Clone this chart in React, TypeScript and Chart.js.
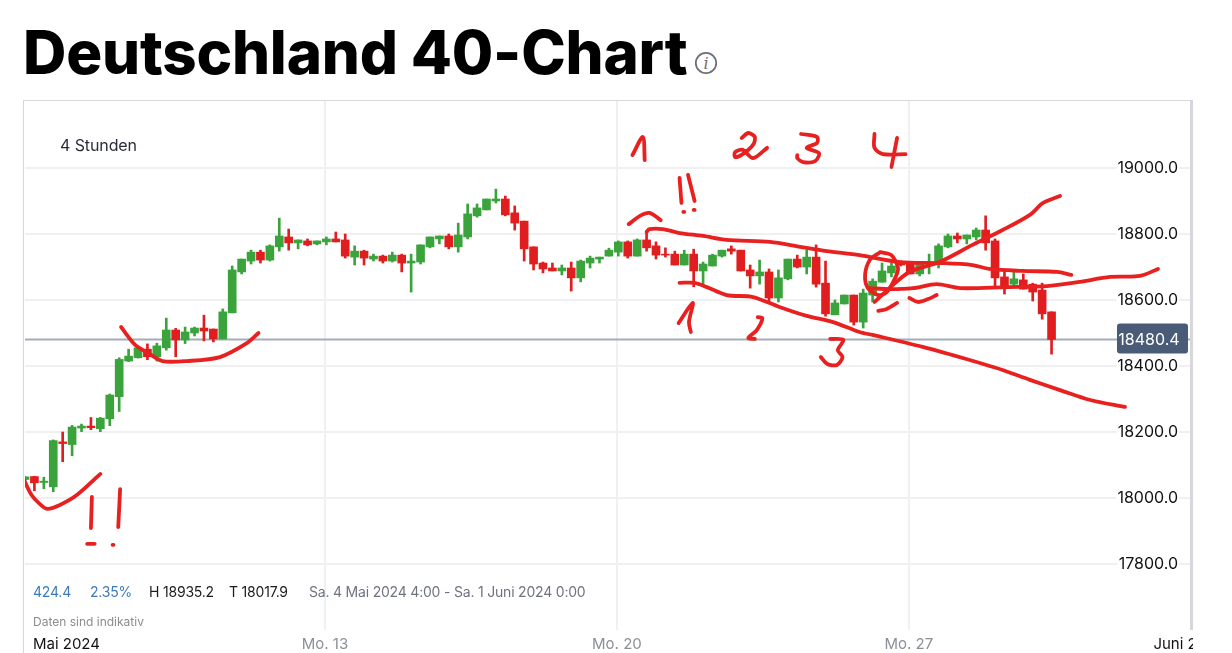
import React, { useEffect, useRef } from "react";
import { Chart, registerables } from "chart.js";

Chart.register(...registerables);

const opens = [18056,18065,18047,18034,18170,18162,18212,18218,18210,18240,18307,18415,18425,18451,18428,18455,18509,18479,18500,18515,18512,18482,18561,18685,18718,18745,18721,18761,18791,18773,18779,18770,18776,18785,18782,18730,18748,18724,18733,18718,18736,18712,18715,18761,18785,18794,18761,18791,18855,18873,18900,18906,18864,18839,18761,18712,18697,18688,18697,18667,18712,18724,18733,18745,18776,18733,18782,18764,18739,18739,18706,18739,18688,18703,18733,18755,18751,18691,18673,18685,18606,18664,18724,18700,18730,18651,18555,18588,18615,18533,18615,18654,18682,18715,18709,18679,18711,18715,18761,18794,18785,18791,18812,18779,18670,18648,18661,18648,18630,18564];
const highs = [18066,18066,18063,18176,18200,18220,18224,18244,18244,18315,18425,18451,18458,18467,18469,18545,18514,18518,18518,18554,18512,18573,18703,18724,18751,18751,18767,18848,18815,18782,18785,18779,18791,18806,18800,18764,18751,18739,18736,18745,18739,18739,18767,18791,18794,18800,18833,18891,18891,18906,18936,18915,18885,18839,18761,18715,18712,18706,18715,18721,18733,18730,18757,18779,18779,18785,18809,18776,18758,18748,18751,18754,18715,18739,18751,18764,18751,18706,18721,18694,18691,18724,18736,18751,18767,18718,18600,18615,18615,18633,18664,18712,18712,18718,18709,18715,18739,18770,18800,18803,18797,18818,18855,18785,18691,18688,18679,18651,18651,18564];
const lows = [18054,18022,18028,18019,18110,18128,18201,18207,18201,18219,18262,18413,18424,18419,18415,18448,18428,18468,18491,18476,18473,18482,18561,18679,18709,18712,18718,18748,18751,18755,18764,18767,18767,18776,18727,18706,18706,18718,18712,18715,18685,18624,18709,18758,18770,18755,18745,18785,18851,18873,18894,18855,18812,18718,18691,18682,18688,18676,18627,18655,18697,18712,18733,18733,18727,18733,18748,18724,18730,18706,18706,18640,18645,18703,18730,18739,18688,18636,18648,18594,18594,18661,18697,18679,18639,18551,18555,18588,18524,18515,18594,18654,18670,18703,18679,18673,18679,18697,18758,18773,18770,18782,18751,18642,18618,18642,18633,18597,18542,18436];
const closes = [18064,18046,18051,18174,18165,18215,18218,18213,18242,18312,18420,18430,18455,18428,18461,18509,18479,18503,18515,18506,18482,18564,18691,18724,18745,18721,18764,18794,18773,18782,18767,18779,18785,18776,18733,18748,18727,18733,18718,18736,18712,18718,18767,18791,18794,18761,18797,18861,18879,18906,18906,18858,18833,18755,18709,18694,18688,18697,18667,18718,18727,18730,18751,18776,18733,18782,18758,18736,18736,18706,18739,18688,18709,18736,18751,18748,18688,18673,18685,18606,18667,18724,18700,18730,18648,18558,18591,18615,18533,18621,18657,18688,18703,18706,18679,18715,18715,18764,18794,18785,18797,18812,18773,18667,18642,18664,18633,18624,18558,18480.4];

const lastPrice = 18480.4;
const yTickValues = [19000, 18800, 18600, 18400, 18200, 18000, 17800];
const xTickValues = [4.4, 31.85, 62.85, 93.85, 123.6];
const xTickLabels = ["Mai 2024", "Mo. 13", "Mo. 20", "Mo. 27", "Juni 2024"];
const xMax = 123.7;
const yMin = 17600;
const yMax = 19203;

// Hand-drawn marks, as [candle index, price] pairs
const smileBottomLeft = [[-0.1,18055],[0.7,18009],[1.8,17976],[2.4,17967],[3.7,17979],[5.5,18009],[8,18073]];
const bangA1 = [[7.1,18003],[7,17909]];
const bangA2 = [[10.1,18027],[9.9,17912]];
const bangADot1 = [[6.6,17861],[7.4,17861]];
const bangADot2 = [[9.3,17858],[9.4,17858]];
const smileMiddle = [[10.2,18518],[11.7,18464],[13.1,18439],[14.6,18415],[17.2,18415],[20.7,18427],[23.6,18470],[24.8,18500]];
const arcTop = [[64.1,18830],[65.3,18855],[66.3,18864],[67.5,18842]];
const upperLine = [[66,18806],[66.3,18815],[67.7,18815],[69.5,18803],[72,18794],[74.5,18782],[79.1,18776],[82.3,18761],[85.1,18748],[88.6,18736],[92.9,18715],[97.1,18712],[100.6,18706],[102.4,18694],[105.9,18688],[109.6,18685],[111.1,18676]];
const lowerLine = [[69.5,18652],[71.1,18652],[72.4,18639],[74.5,18615],[77.3,18609],[80.1,18579],[83,18552],[85.8,18533],[88.6,18503],[90,18494],[95.3,18458],[98.5,18433],[101.4,18409],[103.8,18388],[106.7,18358],[109.9,18327],[113.1,18297],[116.8,18276]];
const middleLine = [[89.7,18636],[91.8,18633],[94.3,18636],[96.8,18648],[99.3,18636],[104.2,18639],[108.5,18642],[112,18655],[115.2,18670],[118.4,18673],[120.3,18694]];
const risingLine = [[90.2,18594],[91.8,18636],[93.9,18685],[97.1,18715],[100.6,18767],[103.8,18812],[106.7,18858],[108.1,18894],[109.9,18915]];
const circle = [[90.8,18745],[89.7,18721],[89.2,18676],[89.5,18636],[90.6,18615],[91.5,18624],[92.4,18667],[92.7,18697],[92,18736],[90.8,18745]];
const dashMark = [[90.6,18567],[91.5,18573],[92.6,18591]];
const tildeMark = [[93.9,18606],[94.8,18594],[95.9,18603],[96.8,18615]];
const topOne = [[64.5,19039],[65.6,19094],[65.8,19024]];
const topTwo = [[76.1,19091],[76.8,19106],[77.5,19094],[77.3,19070],[76.2,19042],[75.4,19033],[75.4,19048],[76.2,19055],[77.3,19030],[78.8,19061]];
const topThree = [[82.4,19103],[84.1,19094],[84.1,19076],[83,19061],[84.3,19045],[83.9,19021],[82.6,19018],[82,19030],[82,19039]];
const topFourA = [[90.2,19103],[90.2,19061],[91.1,19042],[93.5,19042]];
const topFourB = [[92.6,19091],[92,19003]];
const bangB1 = [[69.5,18970],[69.7,18894]];
const bangB2 = [[70.4,18979],[71.1,18900]];
const bangBDot1 = [[69.9,18867],[70,18867]];
const bangBDot2 = [[71,18873],[71.1,18873]];
const lowOne = [[69.4,18530],[70.9,18591],[70.5,18533],[70.7,18503]];
const lowTwo = [[77.8,18548],[78.3,18545],[77.7,18509],[76.8,18485],[77.5,18482]];
const lowThree = [[85.5,18482],[86.9,18479],[86.3,18448],[86.8,18427],[86.2,18403],[85.2,18406],[84.5,18427]];

const strokes = [smileBottomLeft,bangA1,bangA2,bangADot1,bangADot2,smileMiddle,arcTop,upperLine,lowerLine,middleLine,risingLine,circle,dashMark,tildeMark,topOne,topTwo,topThree,topFourA,topFourB,bangB1,bangB2,bangBDot1,bangBDot2,lowOne,lowTwo,lowThree];

const GREEN = "#3aa33c";
const RED = "#e01e20";
const INK = "#e8201f";
const FONT = "Inter, 'Noto Sans', sans-serif";

const priceTag = {
  id: "priceTag",
  afterDatasetsDraw(chart: any) {
    const { ctx, chartArea, scales } = chart;
    const y = scales.y.getPixelForValue(lastPrice);
    const left = chartArea.right - 73;
    ctx.save();
    ctx.fillStyle = "#4a5b78";
    ctx.beginPath();
    ctx.roundRect(left, y - 16, 71, 30, 3);
    ctx.fill();
    ctx.fillStyle = "#ffffff";
    ctx.font = `16px ${FONT}`;
    ctx.textAlign = "center";
    ctx.textBaseline = "middle";
    ctx.fillText(lastPrice.toFixed(1), left + 32, y + 0.5);
    ctx.restore();
  },
};

const abs = (style: React.CSSProperties): React.CSSProperties => ({
  position: "absolute",
  whiteSpace: "nowrap",
  fontFamily: FONT,
  ...style,
});

export default function App() {
  const ref = useRef<HTMLCanvasElement | null>(null);

  useEffect(() => {
    if (!ref.current) return;
    const candleColors = closes.map((c, i) => (c >= opens[i] ? GREEN : RED));
    const chart = new Chart(ref.current, {
      type: "bar",
      plugins: [priceTag],
      data: {
        datasets: [
          {
            type: "line",
            order: 5,
            data: [{ x: 0, y: lastPrice }, { x: xMax, y: lastPrice }],
            borderColor: "#a3adba",
            borderWidth: 2,
            pointRadius: 0,
          },
          {
            order: 4,
            data: opens.map((_, i) => ({ x: i, y: [lows[i], highs[i]] })),
            backgroundColor: candleColors,
            barThickness: 2,
            grouped: false,
          },
          {
            order: 3,
            data: opens.map((o, i) => ({ x: i, y: [o, closes[i]] })),
            backgroundColor: candleColors,
            barThickness: 8,
            grouped: false,
          },
          ...strokes.map((s) => ({
            type: "line",
            order: 1,
            data: s.map(([x, y]) => ({ x, y })),
            borderColor: INK,
            borderWidth: 3.8,
            borderCapStyle: "round",
            borderJoinStyle: "round",
            tension: 0.3,
            pointRadius: 0,
          })),
        ] as any,
      },
      options: {
        animation: false,
        responsive: false,
        maintainAspectRatio: false,
        layout: { padding: { left: 0, right: 3, top: 0, bottom: 0 } },
        plugins: { legend: { display: false }, tooltip: { enabled: false } },
        scales: {
          x: {
            type: "linear",
            min: 0,
            max: xMax,
            offset: false,
            border: { display: false },
            grid: {
              offset: false,
              drawTicks: false,
              lineWidth: 2,
              color: (c: any) => (c.index > 0 && c.index < 4 ? "#eff0f3" : "rgba(0,0,0,0)"),
            },
            afterBuildTicks: (s: any) => {
              s.ticks = xTickValues.map((value) => ({ value }));
            },
            afterFit: (s: any) => {
              s.height = 23;
              s.paddingLeft = 0;
              s.paddingRight = 0;
            },
            ticks: {
              autoSkip: false,
              maxRotation: 0,
              minRotation: 0,
              padding: 5,
              font: { family: FONT, size: 15 },
              color: (c: any) => (c.index > 0 && c.index < 4 ? "#8b8f98" : "#111111"),
              callback: (_: any, i: number) => xTickLabels[i],
            },
          },
          y: {
            type: "linear",
            position: "right",
            min: yMin,
            max: yMax,
            border: { display: false },
            grid: { drawTicks: false, lineWidth: 2, color: "#f0f0f1" },
            afterBuildTicks: (s: any) => {
              s.ticks = yTickValues.map((value) => ({ value }));
            },
            afterFit: (s: any) => {
              s.width = 0;
            },
            ticks: {
              mirror: true,
              padding: -12,
              showLabelBackdrop: true,
              backdropColor: "#ffffff",
              backdropPadding: 1,
              color: "#111111",
              font: { family: FONT, size: 16 },
              callback: (v: any) => Number(v).toFixed(1),
            },
          },
        },
      },
    } as any);
    return () => chart.destroy();
  }, []);

  const statStyle = { fontSize: 14, letterSpacing: "-0.2px", top: 583 };

  return (
    <div style={{ position: "absolute", left: 0, top: 0, width: 1232, height: 653, overflow: "hidden", background: "#fff" }}>
      <h1 style={abs({ left: 23, top: 16, margin: 0, fontSize: 60, lineHeight: "72px", fontWeight: 800, color: "#000", letterSpacing: "-0.2px" })}>
        Deutschland 40-Chart
      </h1>
      <svg style={{ position: "absolute", left: 694, top: 51 }} width={24} height={24}>
        <circle cx={12} cy={12} r={10.2} fill="none" stroke="#6d7079" strokeWidth={1.8} />
        <text x={12} y={18} textAnchor="middle" fontFamily="'DejaVu Serif', serif" fontStyle="italic" fontSize={16} fill="#6d7079">i</text>
      </svg>
      <div style={{ position: "absolute", left: 23, top: 100, width: 1, height: 553, background: "#d6d6dc" }} />
      <div style={{ position: "absolute", left: 23, top: 100, width: 1169, height: 1, background: "#d6d6dc" }} />
      <div style={{ position: "absolute", left: 1190, top: 100, width: 3, height: 530, background: "#d6d6dc" }} />
      <canvas ref={ref} width={1168} height={552} style={{ position: "absolute", left: 25, top: 101, width: 1168, height: 552 }} />
      <div style={abs({ left: 60, top: 135, fontSize: 16, letterSpacing: "-0.1px", color: "#2a2d38" })}>4 Stunden</div>
      <div style={abs({ ...statStyle, left: 33, color: "#3d7ab8" })}>424.4</div>
      <div style={abs({ ...statStyle, left: 90, color: "#3d7ab8" })}>2.35%</div>
      <div style={abs({ ...statStyle, left: 149, color: "#1b1c20" })}>H 18935.2</div>
      <div style={abs({ ...statStyle, left: 229, color: "#1b1c20" })}>T 18017.9</div>
      <div style={abs({ ...statStyle, left: 309, color: "#6f7380" })}>Sa. 4 Mai 2024 4:00 - Sa. 1 Juni 2024 0:00</div>
      <div style={abs({ left: 33, top: 614, fontSize: 12, color: "#8c8c8c" })}>Daten sind indikativ</div>
    </div>
  );
}
